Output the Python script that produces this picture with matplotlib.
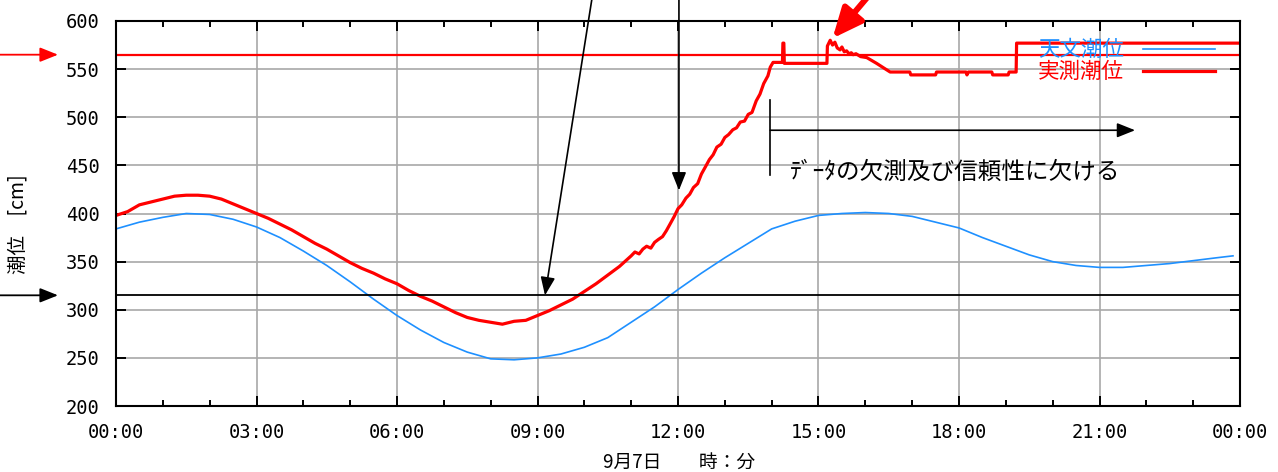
import matplotlib
matplotlib.use('Agg')
import matplotlib.pyplot as plt
from matplotlib.ticker import MultipleLocator

plt.rcParams['font.family'] = ['Noto Sans CJK JP', 'DejaVu Sans']

# ---- data (hours since 00:00, cm) ----
astro_t = [0.0, 0.5, 1.0, 1.5, 2.0, 2.5, 3.0, 3.5, 4.0, 4.5, 5.0, 5.5, 6.0, 6.5, 7.0, 7.5,
           8.0, 8.5, 9.0, 9.5, 10.0, 10.5, 11.0, 11.5, 12.0, 12.5, 13.0, 13.5, 14.0, 14.5,
           15.0, 15.5, 16.0, 16.5, 17.0, 17.5, 18.0, 18.5, 19.0, 19.5, 20.0, 20.5, 21.0,
           21.5, 22.0, 22.5, 23.0, 23.5, 23.85]
astro_v = [384, 391, 396, 400, 399, 394, 386, 375, 361, 346, 329, 311, 294, 279, 266, 256,
           249, 248, 250, 254, 261, 271, 287, 303, 321, 338, 354, 369, 384, 392,
           398, 400, 401, 400, 397, 391, 385, 375, 366, 357, 350, 346, 344,
           344, 346, 348, 351, 354, 356]

obs_t = [0.0, 0.25, 0.5, 0.75, 1.0, 1.25, 1.5, 1.75, 2.0, 2.25, 2.5, 2.75, 3.0, 3.25, 3.5,
         3.75, 4.0, 4.25, 4.5, 4.75, 5.0, 5.25, 5.5, 5.75, 6.0, 6.25, 6.5, 6.75, 7.0, 7.25,
         7.5, 7.75, 8.0, 8.25, 8.5, 8.75, 9.0, 9.25, 9.5, 9.75, 10.0, 10.25, 10.5, 10.75,
         11.0, 11.08, 11.17, 11.25, 11.33, 11.42, 11.5, 11.58, 11.67, 11.75, 11.83, 11.92,
         12.0, 12.08, 12.17, 12.25, 12.33, 12.42, 12.5, 12.58, 12.67, 12.75, 12.83, 12.92,
         13.0, 13.08, 13.17, 13.25, 13.33, 13.42, 13.5, 13.58, 13.67, 13.75, 13.83, 13.92,
         13.97, 14.03, 14.23, 14.24, 14.26, 14.27, 15.18, 15.19, 15.25, 15.3, 15.35, 15.4,
         15.46, 15.5, 15.55, 15.6, 15.65, 15.7, 15.74, 15.8, 15.9, 16.03, 16.24, 16.4,
         16.53, 16.95, 16.97, 17.5, 17.52, 18.15, 18.17, 18.2, 18.7, 18.72, 19.05, 19.07,
         19.22, 19.23, 24.0]
obs_v = [398, 402, 409, 412, 415, 418, 419, 419, 418, 415, 410, 405, 400, 395, 389,
         383, 376, 369, 363, 356, 349, 343, 338, 332, 327, 320, 314, 309, 303, 297,
         292, 289, 287, 285, 288, 289, 294, 299, 305, 311, 319, 327, 336, 345,
         356, 360, 358, 363, 366, 364, 370, 373, 376, 382, 389, 397,
         405, 409, 416, 420, 427, 431, 441, 448, 456, 461, 469, 472,
         479, 482, 487, 489, 495, 496, 503, 505, 517, 524, 535, 543,
         552, 557, 557, 577, 577, 556, 556, 574, 580, 575, 578, 572,
         570, 573, 568, 569, 566, 567, 565, 566, 563, 562, 556, 551,
         547, 547, 544, 544, 547, 547, 544, 547, 547, 544, 544, 547,
         547, 577, 577]

upper_level = 565
lower_level = 315

xtick_pos = [0, 3, 6, 9, 12, 15, 18, 21, 24]
xtick_labels = ['00:00', '03:00', '06:00', '09:00', '12:00', '15:00', '18:00', '21:00', '00:00']
yticks = [200, 250, 300, 350, 400, 450, 500, 550, 600]

blue = '#1e90ff'
red = '#ff0000'

fig = plt.figure(figsize=(12.78, 4.72), dpi=100)
ax = fig.add_axes([116/1278, 1 - 406/472, 1124/1278, 385/472])

ax.plot(astro_t, astro_v, color=blue, lw=1.2, label='天文潮位')
ax.plot(obs_t, obs_v, color=red, lw=2.3, label='実測潮位')
ax.axhline(upper_level, color=red, lw=1.6)
ax.axhline(lower_level, color='black', lw=1.3)

ax.set_xlim(0, 24)
ax.set_ylim(200, 600)
ax.set_xticks(xtick_pos)
ax.set_xticklabels(xtick_labels)
ax.set_yticks(yticks)
ax.xaxis.set_minor_locator(MultipleLocator(1))
ax.tick_params(which='both', direction='in', top=True, right=True, width=1.4, pad=12)
ax.tick_params(which='major', length=7)
ax.tick_params(which='minor', length=4)
for lab in ax.get_xticklabels() + ax.get_yticklabels():
    lab.set_family('DejaVu Sans Mono')
    lab.set_fontsize(13.5)
for s in ax.spines.values():
    s.set_linewidth(1.5)
ax.grid(True, which='major', color='#a8a8a8', lw=1.2)
ax.set_axisbelow(True)

fig.text(679/1278, 1 - 462/472, '9月7日　　時：分', ha='center', va='center', fontsize=13.5)
fig.text(18/1278, 1 - 224/472, '潮位　[cm]', rotation=90, ha='center', va='center', fontsize=14)

leg = ax.legend(loc='upper right', bbox_to_anchor=(0.985, 0.975), frameon=False,
                markerfirst=False, labelcolor='linecolor', fontsize=15.5,
                handlelength=3.3, handletextpad=0.9, labelspacing=0.0, borderaxespad=0)

# annotations
black_head = '-|>,head_length=0.55,head_width=0.22'
ax.annotate('', xy=(58/1278, upper_level), xytext=(0, upper_level),
            xycoords=('figure fraction', 'data'), textcoords=('figure fraction', 'data'),
            arrowprops=dict(arrowstyle=black_head, color=red, lw=1.3, mutation_scale=20,
                            shrinkA=0, shrinkB=0), annotation_clip=False)
ax.annotate('', xy=(58/1278, lower_level), xytext=(0, lower_level),
            xycoords=('figure fraction', 'data'), textcoords=('figure fraction', 'data'),
            arrowprops=dict(arrowstyle=black_head, color='black', lw=1.3, mutation_scale=20,
                            shrinkA=0, shrinkB=0), annotation_clip=False)
ax.annotate('', xy=(9.16, 315), xytext=(10.19, 1.02),
            xycoords='data', textcoords=('data', 'figure fraction'),
            arrowprops=dict(arrowstyle=black_head, color='black', lw=1.2, mutation_scale=20,
                            shrinkA=0, shrinkB=0), annotation_clip=False)
ax.annotate('', xy=(12.02, 424), xytext=(12.02, 1.02),
            xycoords='data', textcoords=('data', 'figure fraction'),
            arrowprops=dict(arrowstyle=black_head, color='black', lw=1.2, mutation_scale=20,
                            shrinkA=0, shrinkB=0), annotation_clip=False)
ax.annotate('', xy=(15.3, 582), xytext=(16.25, 1.03),
            xycoords='data', textcoords=('data', 'figure fraction'),
            arrowprops=dict(arrowstyle='-|>,head_length=0.9,head_width=0.4', color=red,
                            lw=4.3, mutation_scale=20, shrinkA=0, shrinkB=0),
            annotation_clip=False)

ax.plot([13.97, 13.97], [440, 518], color='black', lw=1.2)
ax.annotate('', xy=(21.76, 486.5), xytext=(13.97, 486.5),
            arrowprops=dict(arrowstyle=black_head, color='black', lw=1.2, mutation_scale=20,
                            shrinkA=0, shrinkB=0))
ax.text(14.39, 443, 'ﾃﾞｰﾀの欠測及び信頼性に欠ける', fontsize=17, va='center', ha='left')

fig.savefig('out.png', dpi=100)
